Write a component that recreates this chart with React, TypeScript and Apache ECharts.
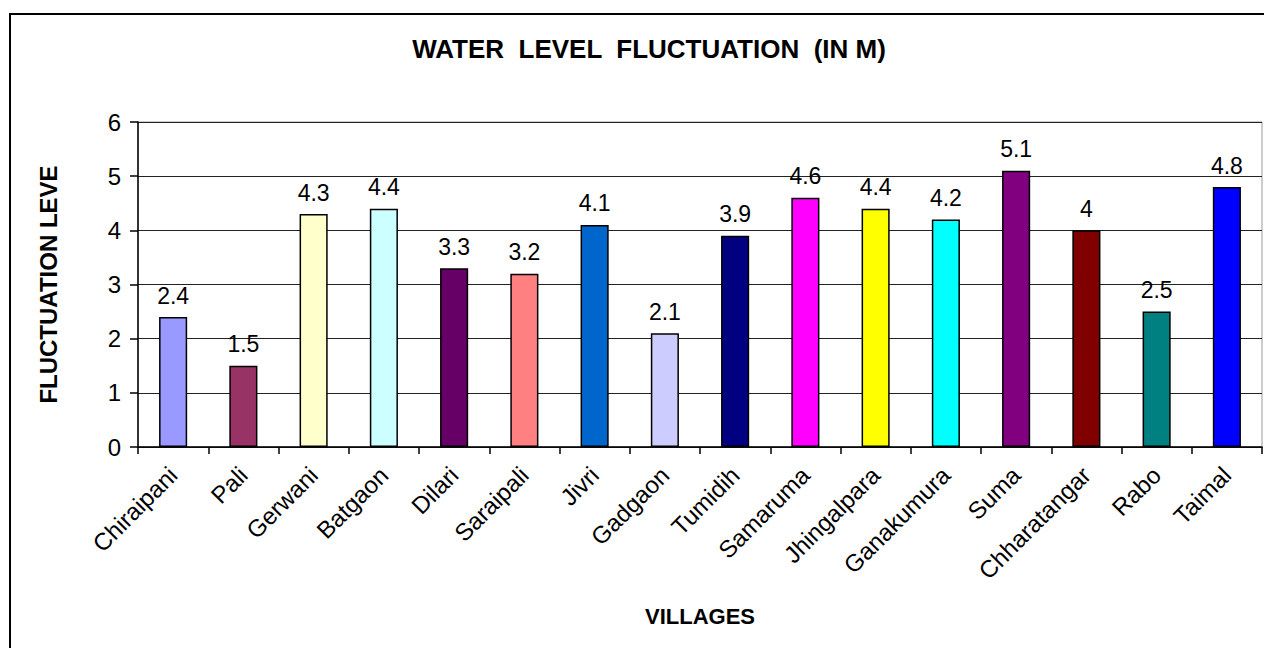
import React, { useEffect, useRef } from "react";
import * as echarts from "echarts";

const villages = [
  "Chiraipani", "Pali", "Gerwani", "Batgaon", "Dilari", "Saraipali", "Jivri", "Gadgaon",
  "Tumidih", "Samaruma", "Jhingalpara", "Ganakumura", "Suma", "Chharatangar", "Rabo", "Taimal",
];
const fluctuation = [2.4, 1.5, 4.3, 4.4, 3.3, 3.2, 4.1, 2.1, 3.9, 4.6, 4.4, 4.2, 5.1, 4, 2.5, 4.8];
const barColors = [
  "#9999FF", "#993366", "#FFFFCC", "#CCFFFF", "#660066", "#FF8080", "#0066CC", "#CCCCFF",
  "#000080", "#FF00FF", "#FFFF00", "#00FFFF", "#800080", "#800000", "#008080", "#0000FF",
];
const yTicks = [0, 1, 2, 3, 4, 5, 6];

const FONT = "'Liberation Sans', Arial, sans-serif";

export default function App() {
  const ref = useRef<HTMLDivElement>(null);
  useEffect(() => {
    if (!ref.current) return;
    const chart = echarts.init(ref.current, undefined, { renderer: "svg" });
    chart.setOption({
      animation: false,
      backgroundColor: "#fff",
      title: {
        text: "WATER  LEVEL  FLUCTUATION  (IN M)",
        left: 644,
        top: 31,
        textAlign: "center",
        textStyle: { fontFamily: FONT, fontSize: 26, fontWeight: "bold", color: "#000" },
      },
      graphic: [
        {
          type: "rect",
          shape: { x: 10, y: 14, width: 1300, height: 700 },
          style: { fill: "none", stroke: "#000", lineWidth: 2 },
          silent: true,
        },
      ],
      grid: {
        left: 138,
        top: 122,
        right: 2,
        bottom: 201,
        show: true,
        borderColor: "#999",
        borderWidth: 1,
      },
      xAxis: {
        type: "category",
        data: villages,
        name: "VILLAGES",
        nameLocation: "middle",
        nameGap: 158,
        nameTextStyle: { fontFamily: FONT, fontSize: 22, fontWeight: "bold", color: "#000" },
        axisLine: { show: true, lineStyle: { color: "#000", width: 1.5 } },
        axisTick: { show: true, inside: false, length: 7, interval: 0, alignWithLabel: false, lineStyle: { color: "#000", width: 1.5 } },
        axisLabel: { rotate: 45, margin: 24, interval: 0, fontFamily: FONT, fontSize: 24, color: "#000" },
      },
      yAxis: {
        type: "value",
        min: yTicks[0],
        max: yTicks[yTicks.length - 1],
        interval: 1,
        name: "FLUCTUATION LEVE",
        nameLocation: "middle",
        nameRotate: 90,
        nameGap: 78,
        nameTextStyle: { fontFamily: FONT, fontSize: 24, fontWeight: "bold", color: "#000" },
        axisLine: { show: true, lineStyle: { color: "#000", width: 1.5 } },
        axisTick: { show: true, inside: false, length: 8, lineStyle: { color: "#000", width: 1.5 } },
        axisLabel: { margin: 17, fontFamily: FONT, fontSize: 24, color: "#000" },
        splitLine: { show: true, lineStyle: { color: "#222", width: 1 } },
      },
      series: [
        {
          type: "bar",
          barWidth: "40%",
          data: fluctuation.map((v, i) => ({
            value: v,
            itemStyle: { color: barColors[i], borderColor: "#000", borderWidth: 1.5 },
          })),
          label: {
            show: true,
            position: "top",
            distance: 10,
            fontFamily: FONT,
            fontSize: 23,
            color: "#000",
          },
        },
      ],
    });
    return () => chart.dispose();
  }, []);
  return (
    <div
      ref={ref}
      style={{ position: "absolute", left: 0, top: 0, width: 1264, height: 648 }}
    />
  );
}
